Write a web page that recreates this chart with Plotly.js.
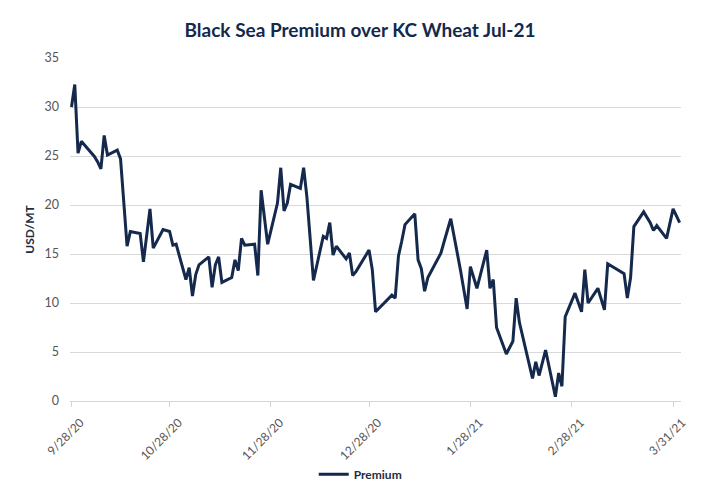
<!DOCTYPE html>
<html>
<head>
<meta charset="utf-8">
<script src="https://cdn.plot.ly/plotly-3.0.1.min.js"></script>
<style>html,body{margin:0;padding:0;background:#fff;}#chart{width:720px;height:500px;}</style>
</head>
<body>
<div id="chart"></div>
<script>
var dates = [
"2020-09-28","2020-09-29","2020-09-30","2020-10-01","2020-10-05","2020-10-06","2020-10-07","2020-10-08","2020-10-09",
"2020-10-12","2020-10-13","2020-10-15","2020-10-16","2020-10-19","2020-10-20","2020-10-22","2020-10-23","2020-10-26",
"2020-10-28","2020-10-29","2020-10-30","2020-11-02","2020-11-03","2020-11-04","2020-11-05","2020-11-06","2020-11-09",
"2020-11-10","2020-11-11","2020-11-12","2020-11-13","2020-11-16","2020-11-17","2020-11-18","2020-11-19","2020-11-20",
"2020-11-23","2020-11-24","2020-11-25","2020-11-27","2020-11-30","2020-12-01","2020-12-02","2020-12-03","2020-12-04",
"2020-12-07","2020-12-08","2020-12-09","2020-12-11","2020-12-14","2020-12-15","2020-12-16","2020-12-17","2020-12-18",
"2020-12-21","2020-12-22","2020-12-23","2020-12-24","2020-12-28","2020-12-29","2020-12-30","2021-01-04","2021-01-05",
"2021-01-06","2021-01-07","2021-01-08","2021-01-11","2021-01-12","2021-01-13","2021-01-14","2021-01-15","2021-01-19",
"2021-01-20","2021-01-22","2021-01-25","2021-01-27","2021-01-28","2021-01-30","2021-02-02","2021-02-03","2021-02-04",
"2021-02-05","2021-02-08","2021-02-10","2021-02-11","2021-02-12","2021-02-16","2021-02-17","2021-02-18","2021-02-20",
"2021-02-23","2021-02-24","2021-02-25","2021-02-26","2021-02-27","2021-03-01","2021-03-03","2021-03-04","2021-03-05",
"2021-03-08","2021-03-10","2021-03-11","2021-03-16","2021-03-17","2021-03-18","2021-03-19","2021-03-22","2021-03-24",
"2021-03-25","2021-03-26","2021-03-29","2021-03-31","2021-04-02"
];
var premium = [
30.0,32.3,25.3,26.5,24.95,24.4,23.7,27.1,25.1,
25.6,24.7,15.8,17.3,17.1,14.2,19.6,15.6,17.5,
17.3,15.9,16.0,12.4,13.6,10.7,12.9,13.9,14.7,
11.6,13.9,14.7,12.1,12.6,14.4,13.3,16.6,15.9,
16.0,12.8,21.5,16.0,20.2,23.8,19.4,20.2,22.1,
21.7,23.8,20.8,12.3,16.8,16.6,18.2,14.9,15.8,
14.5,15.1,12.8,13.2,15.4,13.4,9.1,10.8,10.5,
14.8,16.3,18.0,19.1,14.4,13.5,11.2,12.6,15.1,
16.3,18.6,13.3,9.4,13.7,11.5,15.4,11.5,12.4,
7.5,4.8,6.1,10.5,8.0,2.3,4.0,2.6,5.2,
0.44,2.85,1.5,8.6,9.4,11.0,9.1,13.4,10.0,
11.5,9.3,14.0,13.0,10.5,12.6,17.8,19.3,18.2,
17.4,17.9,16.6,19.6,18.2
];
var tickDates = ["2020-09-28","2020-10-28","2020-11-28","2020-12-28","2021-01-28","2021-02-28","2021-03-31"];
var tickLabels = ["9/28/20","10/28/20","11/28/20","12/28/20","1/28/21","2/28/21","3/31/21"];
var seriesName = "Premium";
var chartTitle = "Black Sea Premium over KC Wheat Jul-21";
var yTitle = "USD/MT";

var navy = "#14294b";
var trace = {
  x: dates, y: premium, type: "scatter", mode: "lines", name: "<b>" + seriesName + "</b>",
  line: {color: navy, width: 3, shape: "linear"}
};
var layout = {
  width: 720, height: 500,
  margin: {l: 70, r: 39, t: 58, b: 98},
  paper_bgcolor: "#fff", plot_bgcolor: "#fff",
  font: {family: "Lato, 'Noto Sans', sans-serif", color: "#555"},
  title: {text: "<b>" + chartTitle + "</b>", x: 0.5, xanchor: "center", y: 0.94, yanchor: "middle",
          font: {size: 19, color: navy, family: "Lato, 'Noto Sans', sans-serif"}},
  xaxis: {
    type: "date", range: ["2020-09-27 13:00", "2021-04-02 10:00"],
    tickmode: "array", tickvals: tickDates, ticktext: tickLabels, tickangle: -45,
    showgrid: false, zeroline: false, showline: true, linecolor: "#d4d4d4", linewidth: 1,
    ticks: "outside", ticklen: 5, tickcolor: "#d4d4d4",
    ticklabelshift: 9, ticklabelstandoff: 4,
    tickfont: {size: 12, color: "#555"}
  },
  yaxis: {
    range: [0, 35], dtick: 5, tick0: 0, showgrid: true, gridcolor: "#d9d9d9", gridwidth: 1,
    zeroline: false, showline: false, ticks: "", ticklabelstandoff: 10,
    tickfont: {size: 12.5, color: "#555"},
    title: {text: "<b>" + yTitle + "</b>", font: {size: 12, color: "#1f2d3d"}, standoff: 7}
  },
  showlegend: true,
  legend: {orientation: "h", x: 0.475, xanchor: "center", y: -0.21, yanchor: "middle",
           font: {size: 12, color: "#1f2d3d"}}
};
Plotly.newPlot("chart", [trace], layout, {displayModeBar: false, staticPlot: true});
</script>
</body>
</html>
